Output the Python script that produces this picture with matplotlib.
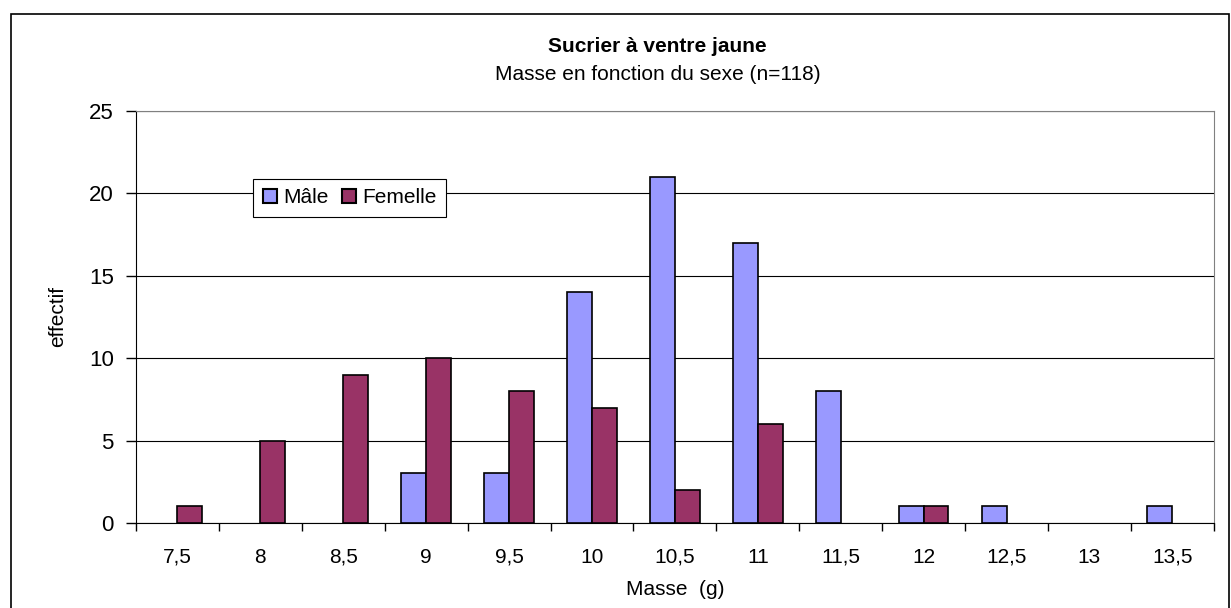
import numpy as np
import matplotlib.pyplot as plt
import matplotlib.transforms as mtransforms
from matplotlib.patches import Rectangle, Patch

plt.rcParams['font.family'] = ['Liberation Sans', 'DejaVu Sans']

# Data
categories = ["7,5", "8", "8,5", "9", "9,5", "10", "10,5", "11", "11,5", "12", "12,5", "13", "13,5"]
male = [0, 0, 0, 3, 3, 14, 21, 17, 8, 1, 1, 0, 1]
female = [1, 5, 9, 10, 8, 7, 2, 6, 0, 1, 0, 0, 0]

fig = plt.figure(figsize=(12.31, 6.08), dpi=100)
ax = fig.add_axes([0.1105, 0.140, 0.8755, 0.6774])

# outer chart border
fig.patches.append(Rectangle((11 / 1231, -0.01), 1 - 11 / 1231 - 0.002, 1 - 14 / 608 + 0.01,
                             transform=fig.transFigure, fill=False, edgecolor='black', lw=1.2))

x = np.arange(len(categories)) + 0.5
w = 0.3
# zero-height bars are not drawn (no outline) as in Excel
lw_m = [1.2 if v > 0 else 0 for v in male]
lw_f = [1.2 if v > 0 else 0 for v in female]
ax.bar(x - w / 2, male, w, color='#9999FF', edgecolor='black', linewidth=lw_m, zorder=3)
ax.bar(x + w / 2, female, w, color='#993366', edgecolor='black', linewidth=lw_f, zorder=3)

ax.set_xlim(0, len(categories))
ax.set_ylim(0, 25)
ax.set_yticks([0, 5, 10, 15, 20, 25])
ax.set_yticklabels(['0', '5', '10', '15', '20', '25'], fontsize=16)
ax.yaxis.grid(True, color='black', lw=0.8, zorder=0)

# ticks at category boundaries, labels centred in each category (same baseline)
ax.set_xticks(np.arange(len(categories) + 1))
ax.set_xticklabels([])
ax.tick_params(axis='x', which='major', length=6, direction='out', width=1)
ax.tick_params(axis='y', length=7, direction='out', width=1, pad=9)
trans = mtransforms.blended_transform_factory(ax.transData, ax.transAxes)
for xi, lab in zip(x, categories):
    ax.text(xi, -(563 - 523) / 412, lab, transform=trans, ha='center', va='baseline', fontsize=15)

for s in ['top', 'right']:
    ax.spines[s].set_color('#808080')
ax.spines['left'].set_color('black')
ax.spines['bottom'].set_color('black')

ax.set_xlabel('Masse  (g)', fontsize=15)
ax.xaxis.set_label_coords(0.5, -(590 - 523) / 412, transform=ax.transAxes)
ax.xaxis.label.set_va('center')
ax.set_ylabel('effectif', fontsize=15, labelpad=16)

fig.text(0.534, 1 - 46 / 608, 'Sucrier à ventre jaune', fontsize=15, fontweight='bold',
         ha='center', va='center')
fig.text(0.534, 1 - 75 / 608, 'Masse en fonction du sexe (n=118)', fontsize=15,
         ha='center', va='center')

handles = [Patch(facecolor='#9999FF', edgecolor='black', linewidth=1.5, label='Mâle'),
           Patch(facecolor='#993366', edgecolor='black', linewidth=1.5, label='Femelle')]
leg = ax.legend(handles=handles, loc='upper left', bbox_to_anchor=(0.109, 0.835), ncol=2,
                fontsize=15, frameon=True, fancybox=False, edgecolor='black', framealpha=1,
                handlelength=0.7, handleheight=0.7, handletextpad=0.3, columnspacing=0.6,
                borderpad=0.45, borderaxespad=0)
leg.get_frame().set_linewidth(0.8)

fig.savefig('out.png', dpi=100)
